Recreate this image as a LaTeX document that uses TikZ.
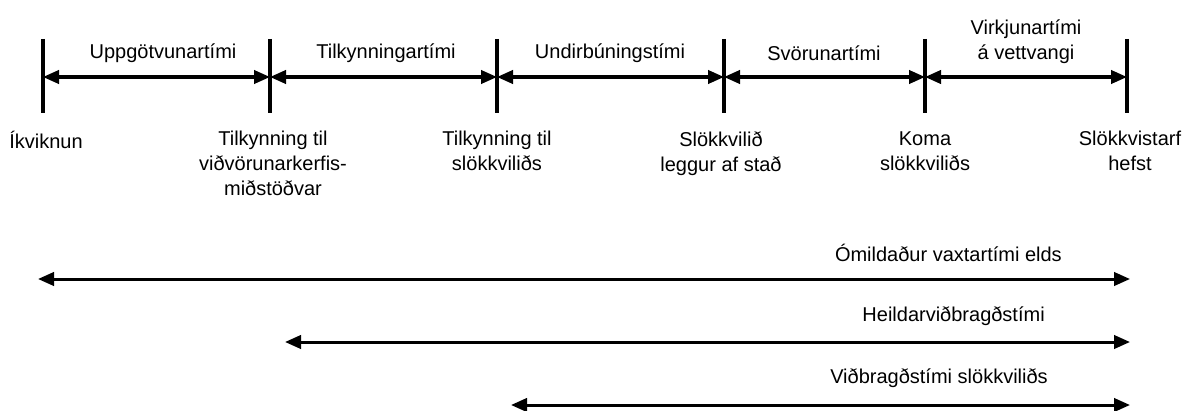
\documentclass[tikz,border=0pt]{standalone}
\usepackage{fontspec}
\setmainfont{Liberation Sans}
\usetikzlibrary{arrows.meta}

\tikzset{
  tickline/.style={line width=3pt},
  span/.style={line width=2.25pt,{Triangle[length=12pt,width=10pt]}-{Triangle[length=12pt,width=10pt]}},
  lbl/.style={font=\fontsize{15}{18.75}\selectfont,inner sep=0pt,align=center},
}

\begin{document}
\begin{tikzpicture}[x=0.75pt,y=0.75pt,yscale=-1,xscale=1]
\useasboundingbox (0,0) rectangle (1187,410);

%Points on the time line
\coordinate (a0) at (43,77);
\coordinate (a1) at (270,77);
\coordinate (a2) at (497,77);
\coordinate (a3) at (724,77);
\coordinate (a4) at (925,77);
\coordinate (a5) at (1127,77);

%Straight Lines: ticks
\draw[tickline] (43,39) -- (43,113);
\draw[tickline] (270,39) -- (270,113);
\draw[tickline] (497,39) -- (497,113);
\draw[tickline] (724,39) -- (724,113);
\draw[tickline] (925,39) -- (925,113);
\draw[tickline] (1127,39) -- (1127,113);

%Straight Lines: intervals
\draw[span] (a0) -- (a1);
\draw[span] (a1) -- (a2);
\draw[span] (a2) -- (a3);
\draw[span] (a3) -- (a4);
\draw[span] (a4) -- (a5);

% Text Node
\node[lbl] (upp) at (163,53) {Uppgötvunartími};
% Text Node
\node[lbl] (tilk) at (386,53) {Tilkynningartími};
% Text Node
\node[lbl] (undir) at (610,53) {Undirbúningstími};
% Text Node
\node[lbl] (svor) at (824,53) {Svörunartími};
% Text Node
\node[lbl,anchor=south] (virk) at (1026,64) {Virkjunartími\\á vettvangi};

% Text Node
\node[lbl,anchor=north] (ikv) at (46,131) {Íkviknun};
% Text Node
\node[lbl,anchor=north] (tvid) at (273,131) {Tilkynning til\\viðvörunarkerfis-\\miðstöðvar};
% Text Node
\node[lbl,anchor=north] (tslo) at (497,131) {Tilkynning til\\slökkviliðs};
% Text Node
\node[lbl,anchor=north] (leggur) at (721,131) {Slökkvilið\\leggur af stað};
% Text Node
\node[lbl,anchor=north] (koma) at (925,131) {Koma\\slökkviliðs};
% Text Node
\node[lbl,anchor=north] (hefst) at (1130,131) {Slökkvistarf\\hefst};

%Long spans
\coordinate (b0) at (38,279);
\coordinate (b1) at (1130,279);
\coordinate (c0) at (285,342);
\coordinate (c1) at (1130,342);
\coordinate (d0) at (511,405);
\coordinate (d1) at (1130,405);
\draw[span] (b0) -- (b1);
\draw[span] (c0) -- (c1);
\draw[span] (d0) -- (d1);

% Text Node
\node[lbl,anchor=east] (omild) at (1062,253) {Ómildaður vaxtartími elds};
% Text Node
\node[lbl,anchor=east] (heild) at (1045,316) {Heildarviðbragðstími};
% Text Node
\node[lbl,anchor=east] (vidb) at (1048,378) {Viðbragðstími slökkviliðs};

\end{tikzpicture}
\end{document}
